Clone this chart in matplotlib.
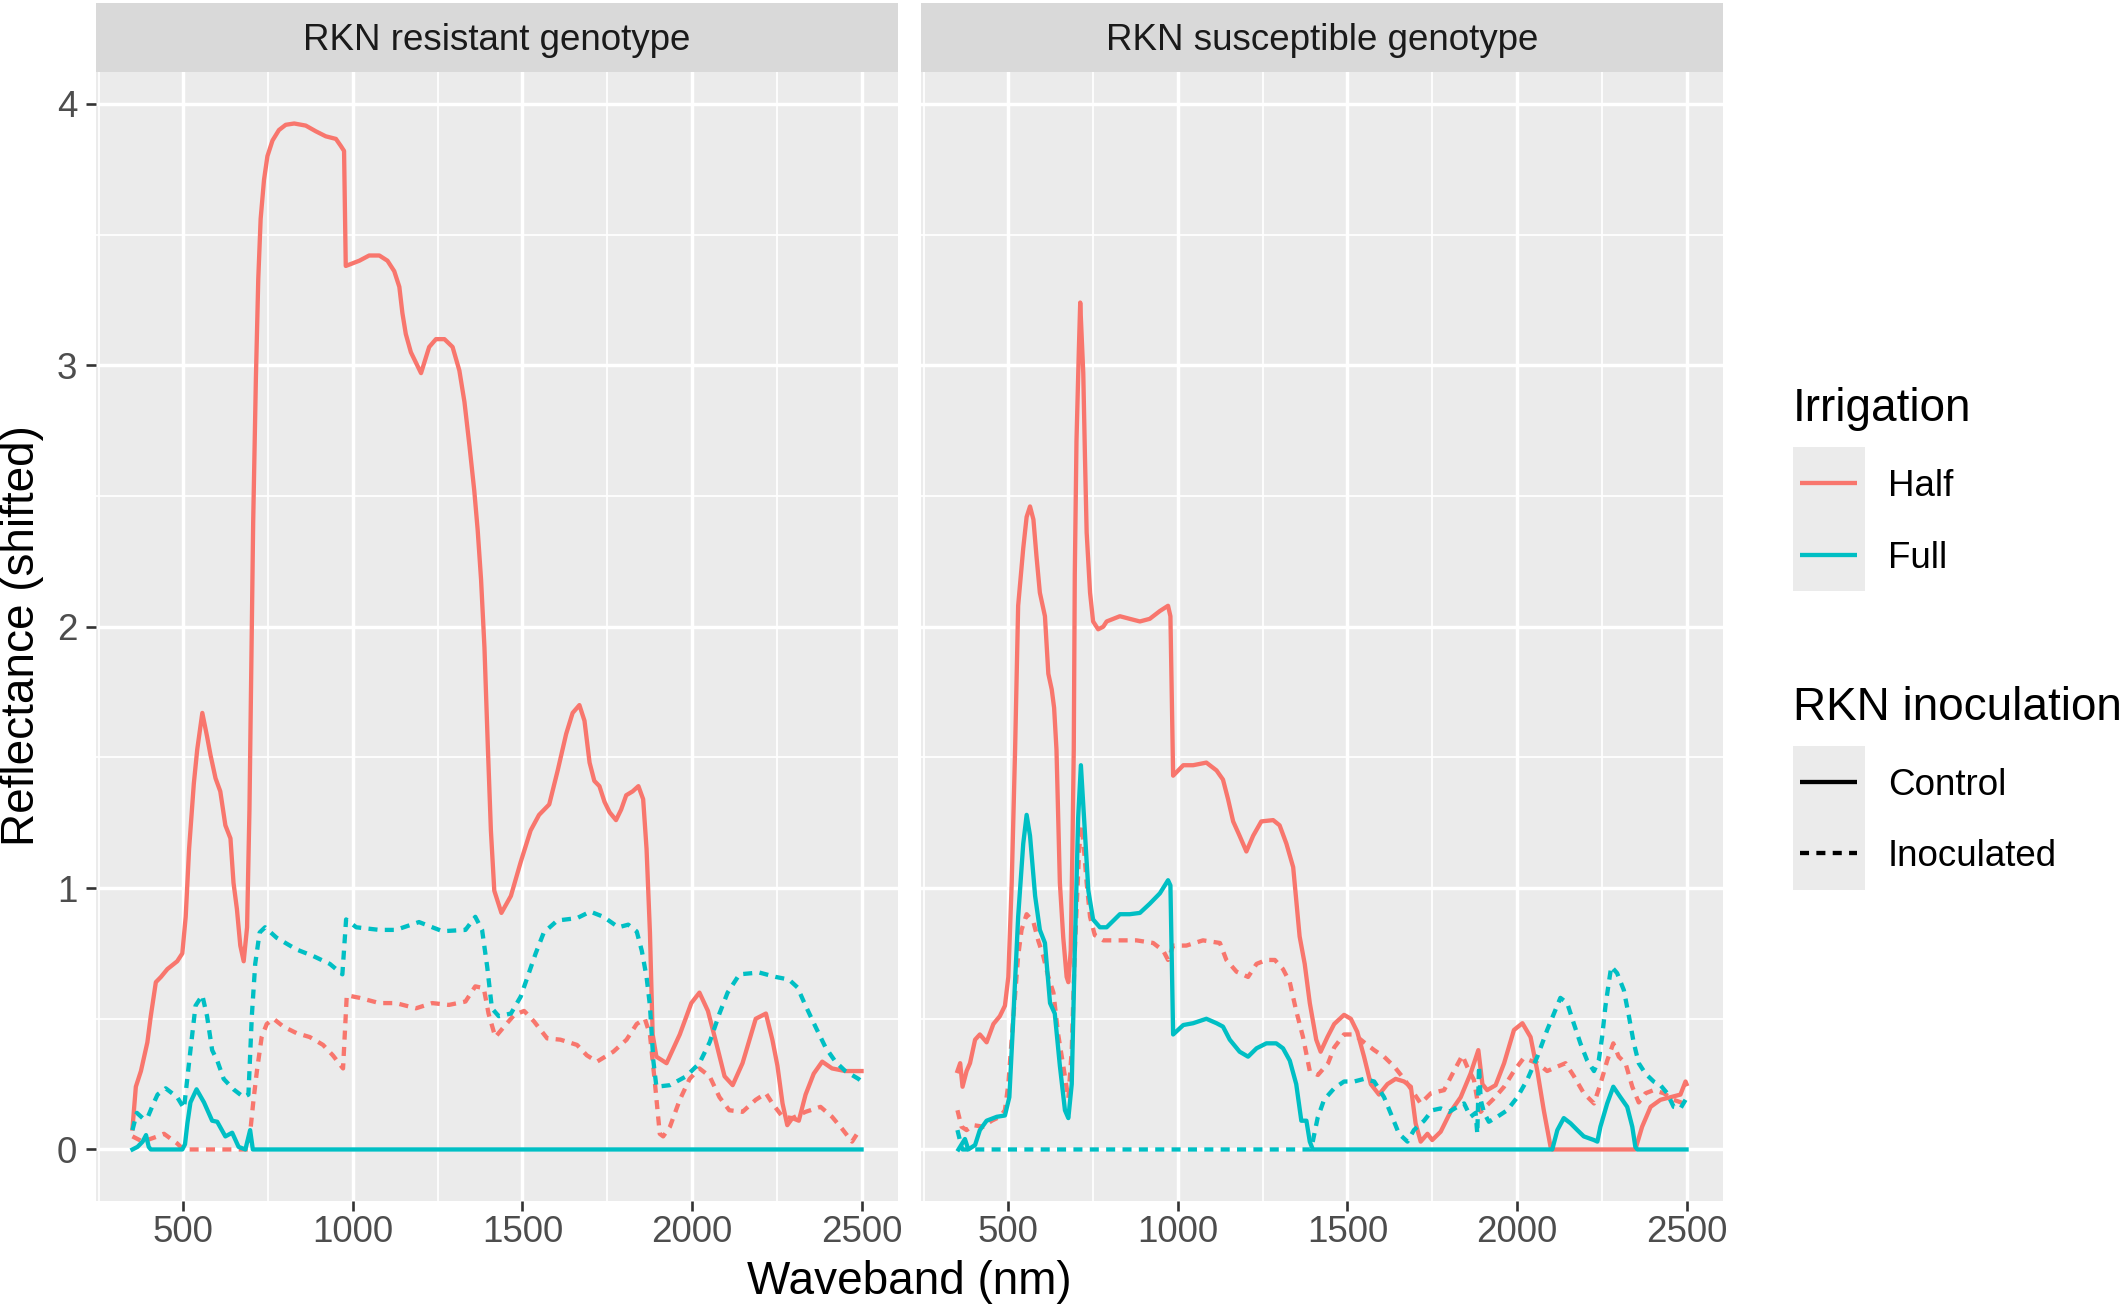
import matplotlib
matplotlib.use("Agg")
import matplotlib.pyplot as plt
from matplotlib.patches import Rectangle

plt.rcParams['font.family'] = ['Liberation Sans', 'DejaVu Sans']

# ---- data (waveband nm, shifted reflectance) ----
# RKN resistant genotype
res_half_ctrl_nm = [350, 360, 375, 394, 404, 419, 434, 453, 482, 497, 507, 517, 531, 541, 556, 570, 580,
                    595, 609, 624, 639, 648, 658, 668, 678, 688, 695, 700, 706, 714, 721, 728, 738, 748,
                    763, 782, 802, 827, 861, 891, 920, 950, 964, 974, 979, 999, 1019, 1048, 1078, 1102,
                    1122, 1137, 1146, 1156, 1171, 1201, 1225, 1245, 1270, 1294, 1314, 1329, 1344, 1358,
                    1368, 1378, 1388, 1398, 1407, 1417, 1438, 1466, 1495, 1524, 1549, 1579, 1604, 1629,
                    1648, 1668, 1683, 1698, 1712, 1727, 1742, 1757, 1776, 1791, 1806, 1825, 1842, 1856,
                    1866, 1876, 1884, 1895, 1925, 1964, 1998, 2022, 2047, 2071, 2096, 2120, 2149, 2188,
                    2218, 2237, 2252, 2267, 2281, 2296, 2315, 2335, 2359, 2384, 2413, 2452, 2491, 2500]
res_half_ctrl = [0.08, 0.24, 0.30, 0.41, 0.51, 0.64, 0.66, 0.69, 0.72, 0.75, 0.89, 1.15, 1.40, 1.53, 1.67,
                 1.58, 1.51, 1.42, 1.37, 1.24, 1.19, 1.02, 0.92, 0.78, 0.72, 0.85, 1.30, 1.80, 2.40, 2.95,
                 3.33, 3.56, 3.71, 3.80, 3.86, 3.90, 3.92, 3.925, 3.917, 3.895, 3.876, 3.866, 3.84, 3.82,
                 3.38, 3.39, 3.40, 3.42, 3.42, 3.40, 3.36, 3.30, 3.20, 3.12, 3.05, 2.97, 3.07, 3.10, 3.10,
                 3.07, 2.98, 2.86, 2.69, 2.52, 2.37, 2.18, 1.92, 1.54, 1.22, 0.99, 0.905, 0.97, 1.10, 1.22,
                 1.28, 1.32, 1.45, 1.59, 1.67, 1.70, 1.64, 1.48, 1.41, 1.39, 1.33, 1.29, 1.26, 1.30, 1.355,
                 1.37, 1.39, 1.34, 1.15, 0.83, 0.44, 0.355, 0.33, 0.44, 0.56, 0.60, 0.53, 0.41, 0.28, 0.246,
                 0.33, 0.50, 0.52, 0.42, 0.32, 0.176, 0.093, 0.12, 0.11, 0.21, 0.29, 0.336, 0.31, 0.30,
                 0.30, 0.30]

res_half_inoc_nm = [350, 380, 424, 443, 482, 500, 692, 707, 717, 731, 746, 766, 795, 834, 873, 912, 941,
                    971, 982, 1020, 1078, 1127, 1186, 1234, 1283, 1332, 1361, 1386, 1400, 1420, 1446, 1476,
                    1505, 1534, 1573, 1612, 1661, 1690, 1720, 1768, 1807, 1837, 1861, 1876, 1891, 1905,
                    1915, 1935, 1964, 1993, 2022, 2052, 2081, 2110, 2149, 2188, 2218, 2237, 2267, 2296,
                    2335, 2379, 2413, 2442, 2472, 2491, 2500]
res_half_inoc = [0.05, 0.03, 0.05, 0.06, 0.023, 0.0, 0.0, 0.19, 0.30, 0.43, 0.48, 0.50, 0.47, 0.445, 0.43,
                 0.40, 0.36, 0.31, 0.59, 0.58, 0.56, 0.56, 0.54, 0.56, 0.553, 0.566, 0.624, 0.617, 0.52,
                 0.43, 0.47, 0.515, 0.53, 0.49, 0.425, 0.42, 0.40, 0.36, 0.336, 0.374, 0.42, 0.48, 0.50,
                 0.44, 0.25, 0.06, 0.05, 0.087, 0.19, 0.27, 0.31, 0.28, 0.20, 0.15, 0.144, 0.19, 0.215,
                 0.176, 0.125, 0.12, 0.144, 0.163, 0.125, 0.08, 0.03, 0.068, 0.07]

res_full_ctrl_nm = [350, 365, 380, 390, 398, 404, 497, 505, 512, 521, 539, 561, 585, 600, 624, 644, 663,
                    683, 697, 705, 2500]
res_full_ctrl = [0.0, 0.01, 0.03, 0.055, 0.01, 0.0, 0.0, 0.02, 0.10, 0.18, 0.23, 0.18, 0.11, 0.106, 0.05,
                 0.064, 0.01, 0.0, 0.074, 0.0, 0.0]

res_full_inoc_nm = [350, 363, 380, 394, 410, 424, 448, 482, 502, 521, 536, 556, 570, 585, 600, 619, 648,
                    678, 692, 702, 712, 725, 741, 775, 834, 883, 932, 969, 980, 1010, 1078, 1127, 1195,
                    1264, 1332, 1361, 1381, 1396, 1410, 1430, 1466, 1495, 1515, 1539, 1563, 1603, 1661,
                    1700, 1739, 1783, 1812, 1837, 1852, 1866, 1876, 1886, 1895, 1935, 1983, 2022, 2052,
                    2081, 2105, 2140, 2198, 2247, 2286, 2311, 2335, 2364, 2394, 2423, 2452, 2491, 2500]
res_full_inoc = [0.074, 0.14, 0.12, 0.12, 0.17, 0.21, 0.234, 0.20, 0.157, 0.38, 0.55, 0.59, 0.51, 0.38,
                 0.34, 0.27, 0.23, 0.20, 0.21, 0.51, 0.71, 0.83, 0.85, 0.81, 0.765, 0.74, 0.71, 0.67, 0.88,
                 0.85, 0.84, 0.84, 0.87, 0.835, 0.84, 0.89, 0.84, 0.70, 0.54, 0.51, 0.52, 0.585, 0.66,
                 0.75, 0.83, 0.876, 0.885, 0.91, 0.89, 0.85, 0.86, 0.834, 0.76, 0.66, 0.55, 0.34, 0.24,
                 0.246, 0.28, 0.33, 0.41, 0.52, 0.60, 0.67, 0.677, 0.66, 0.65, 0.62, 0.55, 0.47, 0.39,
                 0.336, 0.30, 0.27, 0.26]

# RKN susceptible genotype
sus_half_ctrl_nm = [350, 358, 365, 377, 387, 402, 416, 436, 456, 475, 490, 500, 510, 520, 529, 544, 554,
                    564, 574, 583, 593, 608, 618, 628, 635, 642, 652, 662, 672, 677, 684, 689, 693, 696,
                    701, 708, 712, 721, 726, 731, 741, 750, 765, 780, 790, 829, 858, 888, 917, 947, 971,
                    978, 986, 1016, 1045, 1084, 1114, 1133, 1148, 1163, 1182, 1202, 1222, 1246, 1281,
                    1300, 1320, 1340, 1359, 1374, 1389, 1408, 1421, 1441, 1461, 1490, 1510, 1529, 1549,
                    1569, 1593, 1618, 1642, 1667, 1687, 1701, 1716, 1736, 1750, 1775, 1804, 1834, 1863,
                    1886, 1898, 1912, 1937, 1962, 1991, 2016, 2040, 2060, 2079, 2099, 2105, 2349, 2369,
                    2394, 2423, 2453, 2482, 2497, 2500]
sus_half_ctrl = [0.30, 0.33, 0.24, 0.30, 0.33, 0.42, 0.44, 0.41, 0.48, 0.51, 0.55, 0.66, 1.02, 1.53, 2.08,
                 2.30, 2.42, 2.46, 2.41, 2.27, 2.13, 2.04, 1.82, 1.76, 1.69, 1.53, 1.02, 0.81, 0.66, 0.64,
                 0.76, 1.15, 1.53, 2.20, 2.71, 3.06, 3.24, 2.97, 2.65, 2.36, 2.13, 2.02, 1.99, 2.00, 2.02,
                 2.04, 2.03, 2.02, 2.03, 2.06, 2.08, 2.04, 1.43, 1.47, 1.47, 1.48, 1.45, 1.415, 1.34,
                 1.255, 1.20, 1.14, 1.20, 1.255, 1.26, 1.24, 1.17, 1.08, 0.815, 0.71, 0.56, 0.42, 0.374,
                 0.43, 0.48, 0.515, 0.50, 0.45, 0.355, 0.25, 0.21, 0.25, 0.27, 0.26, 0.24, 0.10, 0.03,
                 0.06, 0.036, 0.068, 0.144, 0.20, 0.29, 0.38, 0.25, 0.227, 0.246, 0.33, 0.457, 0.483,
                 0.43, 0.30, 0.15, 0.01, 0.0, 0.0, 0.087, 0.163, 0.19, 0.20, 0.21, 0.26, 0.25]

sus_half_inoc_nm = [350, 362, 377, 397, 426, 451, 475, 490, 500, 515, 529, 539, 554, 574, 588, 603, 618,
                    633, 647, 662, 677, 687, 696, 709, 716, 723, 731, 741, 755, 780, 829, 878, 927, 957,
                    971, 986, 1025, 1074, 1124, 1143, 1173, 1207, 1232, 1261, 1286, 1310, 1330, 1349,
                    1369, 1389, 1413, 1443, 1461, 1490, 1520, 1549, 1579, 1608, 1638, 1667, 1696, 1716,
                    1746, 1785, 1814, 1839, 1853, 1873, 1883, 1893, 1907, 1932, 1962, 1991, 2020, 2060,
                    2089, 2119, 2143, 2168, 2197, 2227, 2246, 2266, 2284, 2300, 2320, 2340, 2359, 2379,
                    2403, 2433, 2462, 2492, 2500]
sus_half_inoc = [0.15, 0.087, 0.074, 0.093, 0.087, 0.11, 0.125, 0.15, 0.25, 0.51, 0.74, 0.84, 0.90, 0.87,
                 0.80, 0.74, 0.66, 0.60, 0.44, 0.32, 0.195, 0.38, 0.76, 1.15, 1.24, 1.15, 1.02, 0.89, 0.82,
                 0.80, 0.80, 0.80, 0.79, 0.76, 0.725, 0.78, 0.78, 0.80, 0.79, 0.725, 0.68, 0.66, 0.71,
                 0.725, 0.725, 0.69, 0.64, 0.53, 0.43, 0.30, 0.285, 0.33, 0.39, 0.44, 0.44, 0.41, 0.38,
                 0.355, 0.317, 0.27, 0.215, 0.176, 0.215, 0.227, 0.30, 0.36, 0.317, 0.266, 0.19, 0.144,
                 0.163, 0.195, 0.24, 0.30, 0.35, 0.33, 0.30, 0.317, 0.33, 0.28, 0.215, 0.176, 0.25, 0.34,
                 0.406, 0.355, 0.33, 0.24, 0.18, 0.215, 0.227, 0.215, 0.19, 0.176, 0.18]

sus_full_ctrl_nm = [353, 372, 382, 402, 416, 436, 466, 490, 503, 515, 529, 544, 554, 564, 579, 593, 608,
                    623, 637, 652, 667, 677, 687, 696, 706, 714, 726, 736, 750, 770, 790, 829, 858, 888,
                    917, 947, 971, 978, 986, 1016, 1045, 1084, 1114, 1133, 1153, 1182, 1207, 1232, 1261,
                    1290, 1310, 1330, 1349, 1364, 1379, 1389, 1398, 2104, 2119, 2138, 2158, 2178, 2197,
                    2227, 2237, 2246, 2266, 2284, 2305, 2325, 2340, 2349, 2355, 2500]
sus_full_ctrl = [0.0, 0.04, 0.0, 0.017, 0.074, 0.11, 0.125, 0.13, 0.20, 0.51, 0.89, 1.17, 1.28, 1.20, 0.97,
                 0.84, 0.79, 0.56, 0.52, 0.32, 0.15, 0.12, 0.25, 0.76, 1.27, 1.47, 1.21, 0.99, 0.88, 0.85,
                 0.85, 0.90, 0.90, 0.905, 0.94, 0.98, 1.03, 1.01, 0.44, 0.476, 0.483, 0.50, 0.483, 0.47,
                 0.42, 0.374, 0.355, 0.387, 0.406, 0.406, 0.387, 0.34, 0.25, 0.11, 0.11, 0.03, 0.0, 0.0,
                 0.074, 0.12, 0.10, 0.074, 0.05, 0.036, 0.03, 0.087, 0.176, 0.24, 0.20, 0.163, 0.087,
                 0.01, 0.0, 0.0]

sus_full_inoc_nm = [350, 362, 365, 1393, 1412, 1431, 1461, 1490, 1520, 1549, 1579, 1608, 1628, 1652, 1677,
                    1696, 1726, 1750, 1775, 1800, 1824, 1844, 1863, 1878, 1883, 1888, 1893, 1903, 1917,
                    1942, 1971, 2001, 2030, 2060, 2089, 2109, 2128, 2148, 2168, 2187, 2207, 2227, 2241,
                    2251, 2261, 2271, 2278, 2295, 2315, 2330, 2344, 2359, 2379, 2403, 2423, 2443, 2462,
                    2482, 2497, 2500]
sus_full_inoc = [0.074, 0.01, 0.0, 0.0, 0.12, 0.19, 0.234, 0.26, 0.26, 0.27, 0.26, 0.20, 0.137, 0.06, 0.03,
                 0.074, 0.11, 0.15, 0.157, 0.144, 0.163, 0.176, 0.125, 0.14, 0.06, 0.32, 0.19, 0.14, 0.106,
                 0.125, 0.15, 0.20, 0.266, 0.355, 0.457, 0.52, 0.58, 0.56, 0.48, 0.406, 0.34, 0.30, 0.34,
                 0.43, 0.55, 0.64, 0.70, 0.675, 0.61, 0.51, 0.41, 0.33, 0.29, 0.26, 0.246, 0.215, 0.163,
                 0.157, 0.19, 0.19]

panels = ["RKN resistant genotype", "RKN susceptible genotype"]
irrigation_levels = ["Half", "Full"]
inoculation_levels = ["Control", "Inoculated"]
x_breaks = [500, 1000, 1500, 2000, 2500]
y_breaks = [0, 1, 2, 3, 4]

series = {
    panels[0]: [("Half", "Control", res_half_ctrl_nm, res_half_ctrl),
                ("Half", "Inoculated", res_half_inoc_nm, res_half_inoc),
                ("Full", "Control", res_full_ctrl_nm, res_full_ctrl),
                ("Full", "Inoculated", res_full_inoc_nm, res_full_inoc)],
    panels[1]: [("Half", "Control", sus_half_ctrl_nm, sus_half_ctrl),
                ("Half", "Inoculated", sus_half_inoc_nm, sus_half_inoc),
                ("Full", "Control", sus_full_ctrl_nm, sus_full_ctrl),
                ("Full", "Inoculated", sus_full_inoc_nm, sus_full_inoc)],
}

# ---- styling (ggplot2 theme_grey look) ----
colours = {"Half": "#F8766D", "Full": "#00BFC4"}
dashes = {"Control": None, "Inoculated": (2.1, 1.7)}
LW = 3.1
W, H = 2121, 1310
small = 26.5
big = 33

fig = plt.figure(figsize=(W / 100, H / 100), dpi=100)


def px_axes(x0, y0, x1, y1, **kw):
    # pixel box (top-left origin) -> figure axes
    return fig.add_axes([x0 / W, 1 - y1 / H, (x1 - x0) / W, (y1 - y0) / H], **kw)


panel_x = [(96, 898), (921, 1723)]
top, bottom, strip_top = 72, 1200.7, 3

for i, name in enumerate(panels):
    x0, x1 = panel_x[i]
    ax = px_axes(x0, top, x1, bottom)
    ax.set_facecolor("#EBEBEB")
    for s in ax.spines.values():
        s.set_visible(False)
    ax.set_xlim(242.5, 2607.5)
    ax.set_ylim(-0.196, 4.122)
    ax.set_xticks(x_breaks)
    ax.set_xticks([250, 750, 1250, 1750, 2250], minor=True)
    ax.set_yticks(y_breaks)
    ax.set_yticks([0.5, 1.5, 2.5, 3.5], minor=True)
    ax.grid(which="major", color="white", linewidth=2.5)
    ax.grid(which="minor", color="white", linewidth=1.25)
    ax.set_axisbelow(True)
    ax.tick_params(which="minor", length=0)
    ax.tick_params(which="major", length=7.5, width=1.9, color="#333333",
                   labelsize=small, labelcolor="#4D4D4D")
    ax.tick_params(axis="x", pad=3)
    ax.tick_params(axis="y", pad=6)
    if i == 1:
        ax.tick_params(axis="y", left=False, labelleft=False)

    for irr, inoc, wl, val in series[name]:
        line, = ax.plot(wl, val, color=colours[irr], linewidth=LW, solid_joinstyle="round")
        if dashes[inoc] is not None:
            line.set_dashes(dashes[inoc])

    sax = px_axes(x0, strip_top, x1, top)
    sax.set_facecolor("#D9D9D9")
    sax.set_xticks([])
    sax.set_yticks([])
    for s in sax.spines.values():
        s.set_visible(False)
    sax.text(0.5, 0.45, name, ha="center", va="center", fontsize=small, color="#1A1A1A",
             transform=sax.transAxes)

fig.text(909 / W, 1 - 1282 / H, "Waveband (nm)", ha="center", va="center", fontsize=big)
fig.text(22 / W, 1 - 636 / H, "Reflectance (shifted)", ha="center", va="center",
         rotation=90, fontsize=big)

# ---- legends, drawn in pixel space ----
lg = fig.add_axes([0, 0, 1, 1], facecolor="none")
lg.set_xlim(0, W)
lg.set_ylim(H, 0)
lg.axis("off")

lg.text(1793, 420.7, "Irrigation", fontsize=big, va="baseline", ha="left")
lg.add_patch(Rectangle((1793, 447), 72, 144, facecolor="#EBEBEB", edgecolor="none"))
for k, irr in enumerate(irrigation_levels):
    yk = 483 + 72 * k
    lg.plot([1800, 1857], [yk, yk], color=colours[irr], linewidth=LW, solid_capstyle="butt")
    lg.text(1888, yk + 13, irr, fontsize=small, va="baseline", ha="left")

lg.text(1793, 720, "RKN inoculation", fontsize=big, va="baseline", ha="left")
lg.add_patch(Rectangle((1793, 746), 72, 144, facecolor="#EBEBEB", edgecolor="none"))
for k, inoc in enumerate(inoculation_levels):
    yk = 782 + 71 * k
    ln, = lg.plot([1800, 1857], [yk, yk], color="black", linewidth=LW, solid_capstyle="butt",
                  dash_capstyle="butt")
    if dashes[inoc] is not None:
        ln.set_dashes(dashes[inoc])
    lg.text(1888, yk + 13, inoc, fontsize=small, va="baseline", ha="left")

fig.savefig("out.png", dpi=100)
